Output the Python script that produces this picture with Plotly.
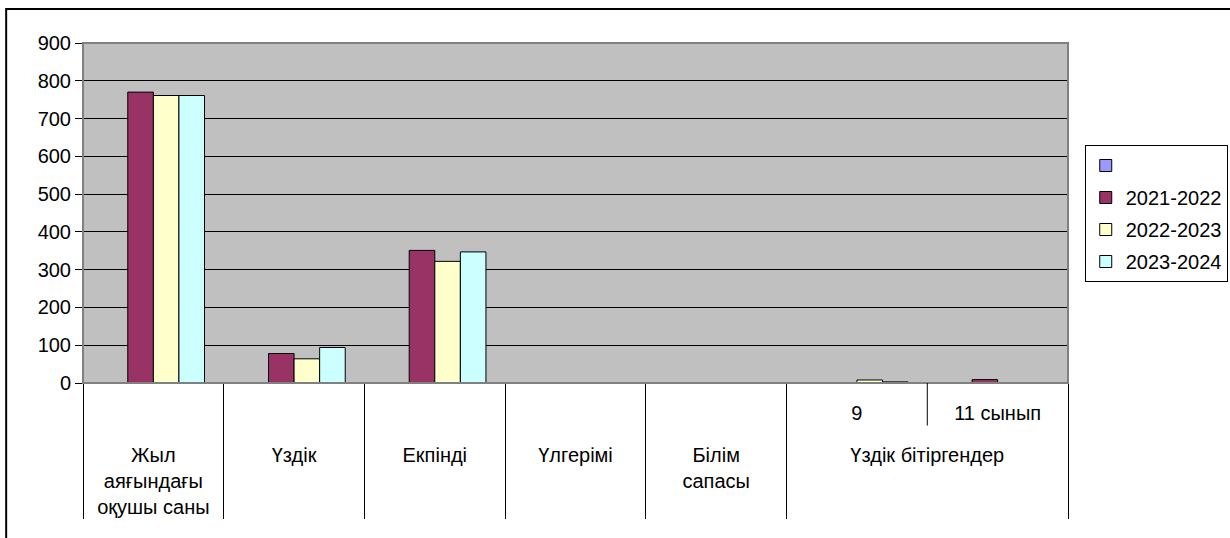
import plotly.graph_objects as go

# categories: outer (lower row) and inner (upper row) labels
outer = ["Жыл<br>аяғындағы<br>оқушы саны", "Үздік", "Екпінді", "Үлгерімі",
         "Білім<br>сапасы", "Үздік бітіргендер", "Үздік бітіргендер"]
pad = "<br><span style='font-size:40px'>\u00a0</span>"
inner = [" ", " ", " ", " ", " ", "9" + pad, "11 сынып" + pad]

series_names = ["", "2021-2022", "2022-2023", "2023-2024"]
s_blank = [0, 0, 0, 0, 0, 0, 0]
s_2122 = [770, 78, 351, 0, 0, 0, 9]
s_2223 = [761, 64, 322, 0, 0, 8, 0]
s_2324 = [761, 94, 347, 0, 0, 3, 0]
colors = ["#9999FF", "#993366", "#FFFFCC", "#CCFFFF"]

font = dict(family="Arial, Liberation Sans, sans-serif", size=20, color="black")

fig = go.Figure()
for i, (name, vals) in enumerate(zip(series_names, [s_blank, s_2122, s_2223, s_2324])):
    fig.add_trace(go.Bar(
        x=[outer, inner], y=vals, name=name, legendgroup=str(i),
        marker=dict(color=colors[i], line=dict(color="black", width=1)),
    ))

fig.update_layout(
    width=1230, height=538,
    margin=dict(l=83, r=162, t=43, b=155, autoexpand=False),
    paper_bgcolor="white", plot_bgcolor="#C0C0C0",
    font=font,
    barmode="group", bargap=0.273, bargroupgap=0,
    showlegend=True,
    legend=dict(x=1.017, y=0.7, xanchor="left", yanchor="top",
                bordercolor="black", borderwidth=1, bgcolor="white",
                font=dict(size=20), tracegroupgap=3, traceorder="grouped"),
)
fig.update_yaxes(range=[0, 900], dtick=100, showgrid=True, gridcolor="black",
                 gridwidth=1, ticks="outside", ticklen=7, tickcolor="black",
                 showline=True, linecolor="black", zeroline=False, fixedrange=True)
fig.update_xaxes(type="multicategory", showline=True, linecolor="black",
                 showdividers=True, dividercolor="black", dividerwidth=1,
                 ticks="", showgrid=False, ticklabelstandoff=12, fixedrange=True)

shapes = [
    # plot area border
    dict(type="rect", xref="paper", yref="paper", x0=0, x1=1, y0=0, y1=1,
         line=dict(color="#808080", width=2)),
    # divider between 9 and 11 сынып in the upper label row
    dict(type="line", xref="paper", yref="paper", x0=6 / 7, x1=6 / 7, y0=0, y1=-0.125,
         line=dict(color="black", width=1)),
    # outer chart border
    dict(type="rect", xref="paper", yref="paper", x0=-0.078, x1=2, y0=-2, y1=1.1,
         line=dict(color="black", width=2)),
]
fig.update_layout(shapes=shapes)

fig.write_html("out.html", config={"displayModeBar": False},
               post_script="document.body.style.margin='0';")
